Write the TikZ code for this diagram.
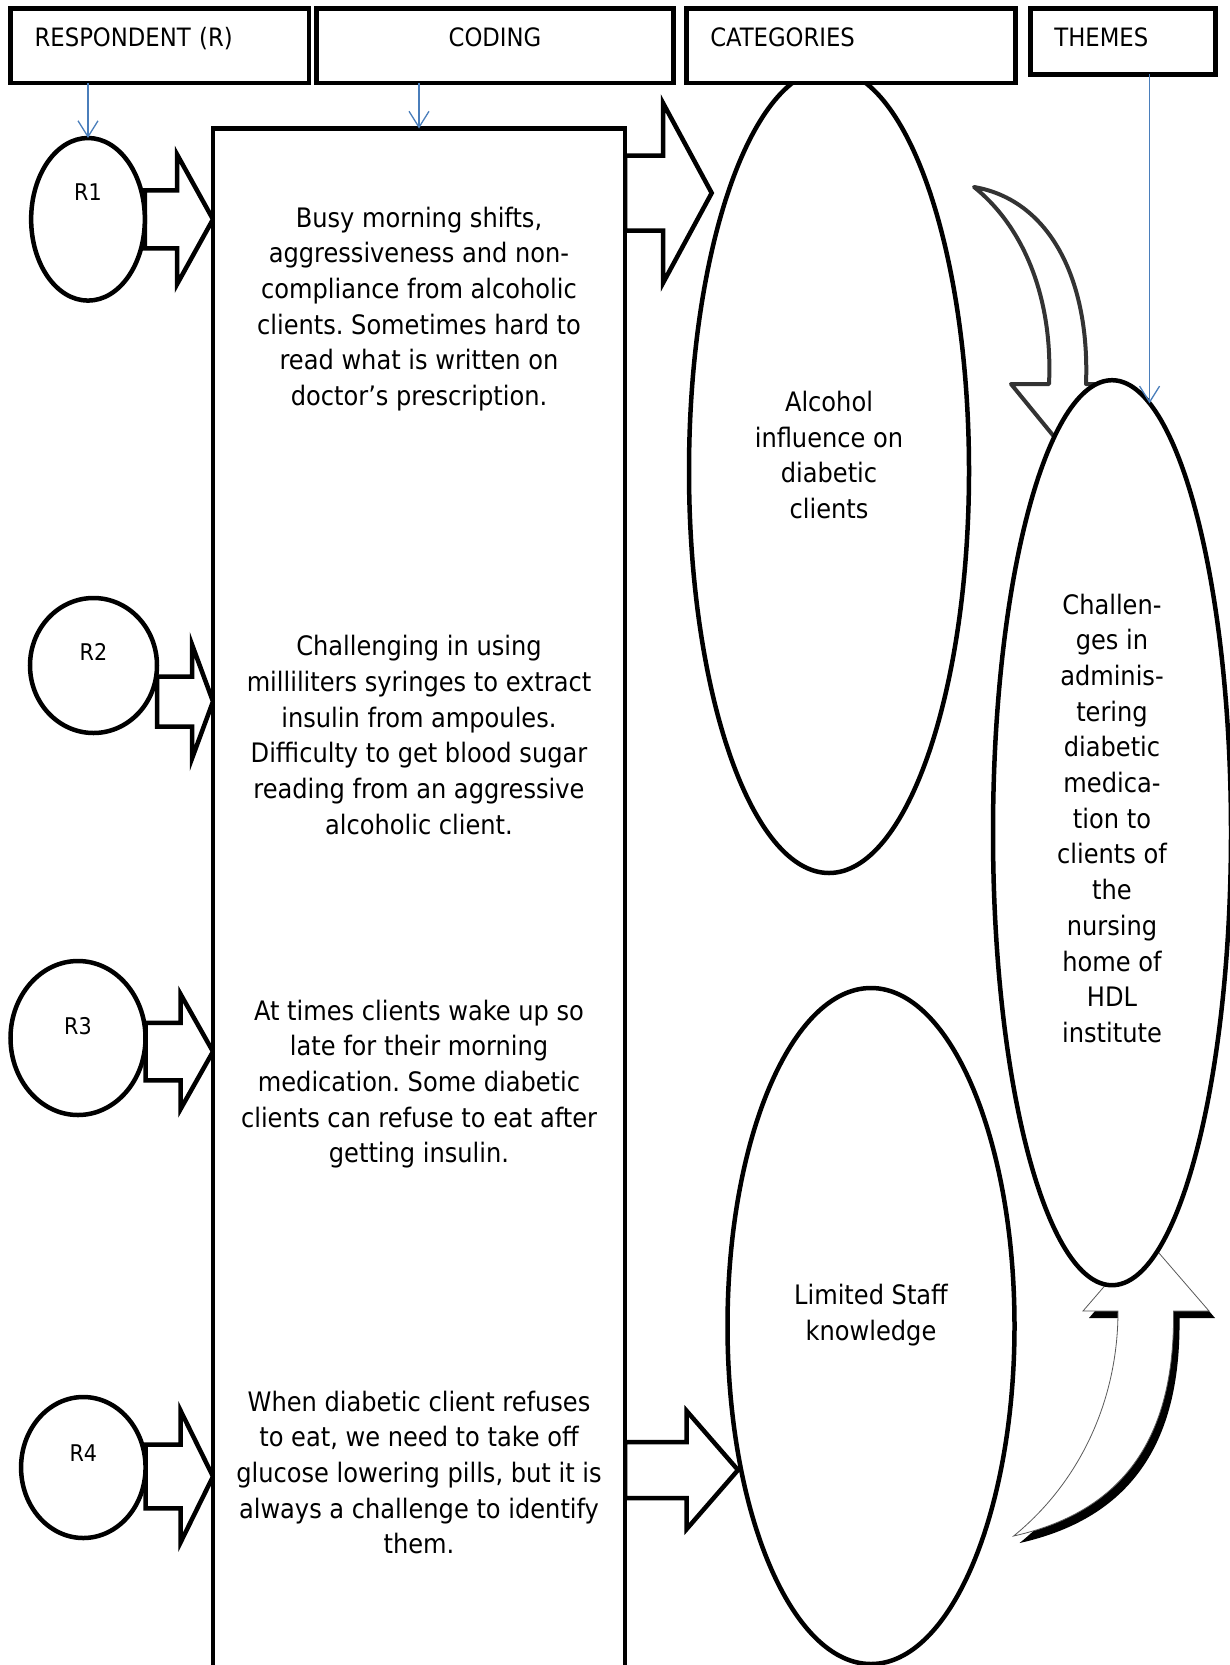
\documentclass[tikz,border=0pt]{standalone}
\usepackage{fontspec}
\setmainfont{DejaVu Sans Condensed}
\usetikzlibrary{shapes.geometric, arrows.meta, positioning, calc, backgrounds}

\definecolor{linkblue}{HTML}{4A7EBB}
\definecolor{curvegray}{HTML}{333333}
\newcommand{\bodyfont}{\fontsize{26.8pt}{35.7pt}\selectfont}
\newcommand{\headfont}{\fontsize{25.3pt}{30pt}\selectfont}
\newcommand{\rfont}{\fontsize{23pt}{28pt}\selectfont}
\frenchspacing

% block arrow: start node, tip, shaft half width, head half width, head length
\newcommand{\fatarrow}[5]{%
  \draw[fatarr] let \p1=(#1), \p2=(#2) in
    (\x1,\y2+#3pt) -- (\x2-#5pt,\y2+#3pt) -- (\x2-#5pt,\y2+#4pt) -- (\p2)
    -- (\x2-#5pt,\y2-#4pt) -- (\x2-#5pt,\y2-#3pt) -- (\x1,\y2-#3pt) -- cycle;}
\newcommand{\risepath}{(1013.6,1536) .. controls (1080,1482) and (1118,1400) .. (1118,1311)
  -- (1083,1311) -- (1146,1238) -- (1209,1311) -- (1173.5,1311)
  .. controls (1175,1430) and (1130,1510) .. (1013.6,1536) -- cycle}

\begin{document}
\begin{tikzpicture}[x=1pt, y=-1pt,
    hdrbox/.style={rectangle, draw=black, line width=4.5pt, fill=white, outer sep=0pt, inner xsep=24pt, inner ysep=0pt, minimum height=74.4pt, text height=18.4pt, text depth=17pt, font=\headfont},
    roval/.style={ellipse, draw=black, line width=4.5pt, fill=white, inner sep=0pt, outer sep=0pt},
    rtext/.style={anchor=center, font=\rfont},
    ovaltext/.style={anchor=center, align=center, font=\bodyfont},
    codetext/.style={align=center, font=\bodyfont},
    fatarr/.style={draw=black, line width=4.5pt, fill=white},
    linkarr/.style={draw=linkblue, line width=1.3pt, -{Straight Barb[length=16pt, width=20pt]}},
    bendarr/.style={draw=curvegray, line width=4pt, fill=white, line join=round}
]
\useasboundingbox (0,0) rectangle (1229,1665);

% Respondents
\node[roval, minimum width=113.7pt, minimum height=162.6pt, label={[rtext, yshift=27pt]center:R1}] (r1) at (88,219.3) {};
\node[roval, minimum width=127pt, minimum height=135pt, label={[rtext, yshift=13.5pt]center:R2}] (r2) at (93.5,665.5) {};
\node[roval, minimum width=135pt, minimum height=154pt, label={[rtext, yshift=12pt]center:R3}] (r3) at (78,1038) {};
\node[roval, minimum width=124.5pt, minimum height=141pt, label={[rtext, yshift=14.5pt]center:R4}] (r4) at (83.3,1467.5) {};

% Coding column
\node[rectangle, draw=black, line width=4.5pt, fill=white, outer sep=0pt, minimum width=412pt, minimum height=1572pt, anchor=north west] (code) at (213,128.5) {};
\node[codetext] (c1) at (419,309) {Busy morning shifts,\\aggressiveness and non-\\compliance from alcoholic\\clients. Sometimes hard to\\read what is written on\\doctor’s prescription.};
\node[codetext] (c2) at (419,735) {Challenging in using\\milliliters syringes to extract\\insulin from ampoules.\\Difficulty to get blood sugar\\reading from an aggressive\\alcoholic client.};
\node[codetext] (c3) at (419,1084) {At times clients wake up so\\late for their morning\\medication. Some diabetic\\clients can refuse to eat after\\getting insulin.};
\node[codetext] (c4) at (419,1472.5) {When diabetic client refuses\\to eat, we need to take off\\glucose lowering pills, but it is\\always a challenge to identify\\them.};

% Categories and theme
\node[roval, minimum width=280pt, minimum height=804pt, label={[ovaltext, yshift=16pt]center:Alcohol\\influence on\\diabetic\\clients}] (cat1) at (829,471) {};
\node[roval, minimum width=287pt, minimum height=676pt, label={[ovaltext, yshift=11pt]center:Limited Staff\\knowledge}] (cat2) at (871,1326) {};
\node[roval, minimum width=238pt, minimum height=905pt, label={[ovaltext, yshift=14.5pt]center:Challen-\\ges in\\adminis-\\tering\\diabetic\\medica-\\tion to\\clients of\\the\\nursing\\home of\\HDL\\institute}] (theme) at (1112,832.7) {};

% Headers
\node[hdrbox, minimum width=298.5pt, text width=250.5pt, align=left] (resp) at (159.9,45.7) {RESPONDENT (R)};
\node[hdrbox, minimum width=356.9pt, right=7.4pt of resp] (coding) {CODING};
\node[hdrbox, minimum width=329.3pt, text width=281.3pt, align=left, right=12.8pt of coding] (cats) {CATEGORIES};
\node[hdrbox, minimum width=184.9pt, minimum height=65.9pt, text width=136.9pt, align=left, text depth=8.4pt, anchor=north west] (themes) at ($(cats.north east)+(14.8,0)$) {THEMES};

% Links from the headers
\draw[linkarr] (r1.north |- resp.south) -- (r1.north);
\draw[linkarr] (code.north |- coding.south) -- (code.north);
\draw[linkarr] (theme.85 |- themes.south) -- (theme.85);

% Block arrows
\coordinate (t1) at (code.west |- r1.east);
\coordinate (t2) at ($(code.west |- r2.east)+(0,36)$);
\coordinate (t3) at ($(code.west |- r3.east)+(0,13.6)$);
\coordinate (t4) at ($(code.west |- r4.east)+(0,9)$);
\coordinate (t5) at (711.7,193);
\coordinate (t6) at (738,1470);
\begin{scope}[on background layer]
\fatarrow{r1.east}{t1}{29}{65}{36}
\fatarrow{r2.east}{t2}{25}{57}{21}
\fatarrow{r3.east}{t3}{28.7}{57.4}{32.4}
\fatarrow{r4.east}{t4}{31.8}{65.8}{32.4}
\fatarrow{code.east}{t5}{37.5}{90}{48.7}
\fatarrow{code.east}{t6}{28}{59}{51.3}

% curved arrows into the theme
\draw[bendarr] (974,187) .. controls (1050,200) and (1090,280) .. (1086,384) -- (1120,384) -- (1065,450) -- (1011,384) -- (1049,384) .. controls (1053,300) and (1025,228) .. (974,187) -- cycle;
\begin{scope}
\clip (900,1311) rectangle (1300,1700);
\fill[black, shift={(6,7)}] \risepath;
\end{scope}
\draw[draw=black!65, line width=0.8pt, fill=white] \risepath;
\end{scope}

\end{tikzpicture}
\end{document}
